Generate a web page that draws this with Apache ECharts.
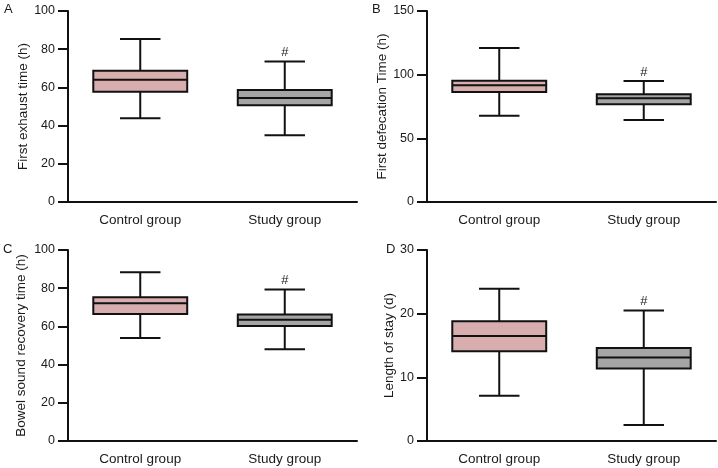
<!DOCTYPE html>
<html>
<head>
<meta charset="utf-8">
<script src="https://cdn.jsdelivr.net/npm/echarts@6/dist/echarts.min.js"></script>
<style>
html,body{margin:0;padding:0;background:#fff;}
#chart{width:718px;height:468px;}
</style>
</head>
<body>
<div id="chart"></div>
<script>
// ---- Data ----
const categories = ['Control group', 'Study group'];
const panelLetters = ['A', 'B', 'C', 'D'];
const yTitles = ['First exhaust time (h)', 'First defecation Time (h)', 'Bowel sound recovery time (h)', 'Length of stay (d)'];
const yMax = [100, 150, 100, 30];
const yInterval = [20, 50, 20, 10];
const sigMarks = ['', '#'];
// [min, Q1, median, Q3, max] per group
const exhaustControl = [43.8, 57.7, 64.0, 68.7, 85.3];
const exhaustStudy = [34.9, 50.6, 54.5, 58.6, 73.6];
const defecationControl = [67.8, 86.4, 91.6, 95.3, 121.0];
const defecationStudy = [64.4, 76.7, 81.4, 84.6, 95.0];
const bowelControl = [53.9, 66.5, 72.1, 75.2, 88.3];
const bowelStudy = [48.0, 60.2, 63.5, 66.2, 79.3];
const stayControl = [7.1, 14.1, 16.5, 18.8, 23.9];
const stayStudy = [2.5, 11.4, 13.1, 14.6, 20.5];

const panelData = [
  [exhaustControl, exhaustStudy],
  [defecationControl, defecationStudy],
  [bowelControl, bowelStudy],
  [stayControl, stayStudy]
];

const fillColors = ['#d8adad', '#a5a5a5'];
const FONT = 'Liberation Sans, Arial, sans-serif';
const TEXT = '#1a1a1a';

const grids = [
  {left: 68, top: 11, width: 289, height: 191},
  {left: 427, top: 11, width: 289, height: 191},
  {left: 68, top: 250, width: 289, height: 191},
  {left: 427, top: 250, width: 289, height: 191}
];
const nameGaps = [38, 38, 40, 31];
const letterPos = [[4, 3], [372, 3], [3, 243], [386, 243]];

function renderItem(params, api) {
  const ci = api.value(0);
  const mn = api.value(1), q1 = api.value(2), md = api.value(3), q3 = api.value(4), mx = api.value(5);
  const band = api.size([1, 0])[0];
  const bh = band * 0.325;
  const ch = band * 0.14;
  const pMin = api.coord([ci, mn]);
  const pQ1 = api.coord([ci, q1]);
  const pMd = api.coord([ci, md]);
  const pQ3 = api.coord([ci, q3]);
  const pMax = api.coord([ci, mx]);
  const cx = pMd[0];
  const ls = {stroke: '#111', lineWidth: 2};
  const children = [
    {type: 'line', shape: {x1: cx, y1: pMax[1], x2: cx, y2: pQ3[1]}, style: ls},
    {type: 'line', shape: {x1: cx, y1: pQ1[1], x2: cx, y2: pMin[1]}, style: ls},
    {type: 'line', shape: {x1: cx - ch, y1: pMax[1], x2: cx + ch, y2: pMax[1]}, style: ls},
    {type: 'line', shape: {x1: cx - ch, y1: pMin[1], x2: cx + ch, y2: pMin[1]}, style: ls},
    {type: 'rect', shape: {x: cx - bh, y: pQ3[1], width: 2 * bh, height: pQ1[1] - pQ3[1]},
      style: {fill: fillColors[ci], stroke: '#111', lineWidth: 2}},
    {type: 'line', shape: {x1: cx - bh, y1: pMd[1], x2: cx + bh, y2: pMd[1]}, style: ls}
  ];
  const mark = sigMarks[ci];
  if (mark) {
    children.push({type: 'text', x: cx, y: pMax[1] - 9,
      style: {text: mark, fill: TEXT, font: '13px ' + FONT, align: 'center', verticalAlign: 'middle'}});
  }
  return {type: 'group', children: children};
}

const option = {
  animation: false,
  backgroundColor: '#fff',
  title: panelLetters.map((t, i) => ({
    text: t, left: letterPos[i][0], top: letterPos[i][1], padding: 0,
    textStyle: {fontSize: 13, fontWeight: 'normal', color: TEXT, fontFamily: FONT}
  })),
  grid: grids,
  xAxis: grids.map((g, i) => ({
    type: 'category', gridIndex: i, data: categories, boundaryGap: true,
    axisLine: {lineStyle: {color: '#111', width: 2}},
    axisTick: {alignWithLabel: true, length: 7, lineStyle: {color: '#111', width: 2}},
    axisLabel: {color: TEXT, fontSize: 13.5, fontFamily: FONT, margin: 11},
    splitLine: {show: false}
  })),
  yAxis: grids.map((g, i) => ({
    type: 'value', gridIndex: i, min: 0, max: yMax[i], interval: yInterval[i],
    name: yTitles[i], nameLocation: 'middle', nameGap: nameGaps[i],
    nameTextStyle: {color: TEXT, fontSize: 13.5, fontFamily: FONT},
    axisLine: {show: true, lineStyle: {color: '#111', width: 2}},
    axisTick: {show: true, length: 10, lineStyle: {color: '#111', width: 2}},
    axisLabel: {color: TEXT, fontSize: 12.5, fontFamily: FONT, margin: 13},
    splitLine: {show: false}
  })),
  series: panelData.map((groups, i) => ({
    type: 'custom', xAxisIndex: i, yAxisIndex: i,
    renderItem: renderItem,
    encode: {x: 0, y: [1, 2, 3, 4, 5]},
    data: groups.map((v, ci) => [ci].concat(v))
  }))
};

const chart = echarts.init(document.getElementById('chart'), null, {renderer: 'canvas'});
chart.setOption(option);
</script>
</body>
</html>
